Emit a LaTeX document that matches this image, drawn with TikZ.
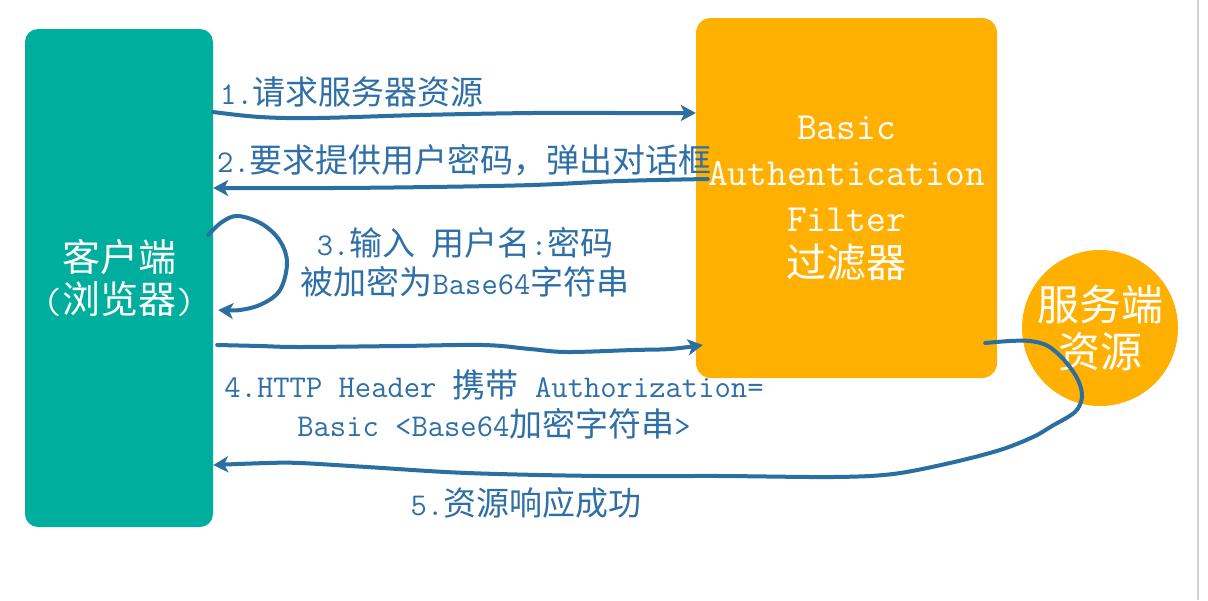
\documentclass[tikz,border=0pt]{standalone}
\usepackage{fontspec}
\setmainfont{Latin Modern Mono}[Scale=0.96]
\newfontfamily\cjk{Noto Sans CJK SC}
\usetikzlibrary{arrows.meta,calc}
\newcommand\zh[1]{{\cjk #1}}
\definecolor{clientcol}{HTML}{00AE9D}
\definecolor{filtercol}{HTML}{FFB000}
\definecolor{arrowcol}{HTML}{2A6EA2}
\definecolor{textcol}{HTML}{2D6FA6}
\tikzset{
  box/.style={rounded corners=13pt, fill=#1, text=white, align=center, inner sep=0pt},
  flow/.style={draw=arrowcol, line width=4pt, line cap=round,
    -{Stealth[length=15pt,width=16pt,inset=4pt]}},
  lbl/.style={text=textcol, inner sep=0pt, font=\fontsize{33}{39}\selectfont}
}
\begin{document}
\begin{tikzpicture}[x=1pt,y=-1pt]
\useasboundingbox (0,0) rectangle (1208,600);
\fill[white] (0,0) rectangle (1208,600);
\draw[gray!35, line width=1.5pt] (1198,0) -- (1198,600);

\node[box=clientcol, minimum width=188pt, minimum height=498pt,
      font=\fontsize{38}{42}\selectfont] (client) at (119,278)
      {\zh{客户端}\\(\zh{浏览器})};
\node[box=filtercol, minimum width=301pt, minimum height=360pt, rounded corners=15pt,
      font=\fontsize{40}{46}\selectfont] (filter) at (846.5,198)
      {Basic\\Authentication\\Filter\\\zh{过滤器}};
\node[circle, fill=filtercol, text=white, align=center, inner sep=0pt,
      minimum size=156pt, font=\fontsize{42}{47}\selectfont] (server) at (1100,328)
      {\zh{服务端}\\\zh{资源}};

% labels
\node[lbl, anchor=west] (l1) at (220,92) {1.\zh{请求服务器资源}};
\node[lbl, anchor=west] (l2) at (217,160) {2.\zh{要求提供用户密码，弹出对话框}};
\node[lbl, align=center] (l3) at (465,262) {3.\zh{输入} \zh{用户名}:\zh{密码}\\\zh{被加密为}Base64\zh{字符串}};
\node[lbl, align=center] (l4) at (494,404) {4.HTTP Header \zh{携带} Authorization=\\Basic <Base64\zh{加密字符串}>};
\node[lbl] (l5) at (526,503) {5.\zh{资源响应成功}};

% 1
\draw[flow] plot[smooth, tension=0.6] coordinates {
  (client.east |- 0,112) (260,117) (317,118) (420,115) (533,113) (620,113)
  (filter.west |- 0,113)};
% 2
\draw[flow] plot[smooth, tension=0.6] coordinates {
  ($(filter.west |- 0,179)+(12,0)$) (620,181) (533,185) (430,187) (333,188)
  (client.east |- 0,188)};
% 3
\draw[flow] plot[smooth, tension=0.6] coordinates {
  ($(client.east |- 0,235)+(-5,0)$) (222,222) (238,216) (262,224) (280,241)
  (287,263) (280,290) (262,304) (240,310) ($(client.east |- 0,310)+(5,0)$)};
% 4
\draw[flow] plot[smooth, tension=0.6] coordinates {
  ($(client.east |- 0,345)+(4,0)$) (260,346) (300,347) (400,346) (483,345)
  (530,349) (567,352) (633,350) (670,349) ($(filter.west |- 0,345)+(7,0)$)};
% 5
\draw[flow] plot[smooth, tension=0.55] coordinates {
  ($(filter.east |- 0,343)+(-12,0)$) (1010,341) (1030,341) (1048,346) (1065,361)
  (1078,380) (1082,397) (1075,412) (1052,426) (1033,437) (1000,450) (950,463)
  (893,474) (833,477) (720,476) (600,476) (467,473) (367,467) (300,463)
  (267,463) (client.east |- 0,465)};
\end{tikzpicture}
\end{document}
